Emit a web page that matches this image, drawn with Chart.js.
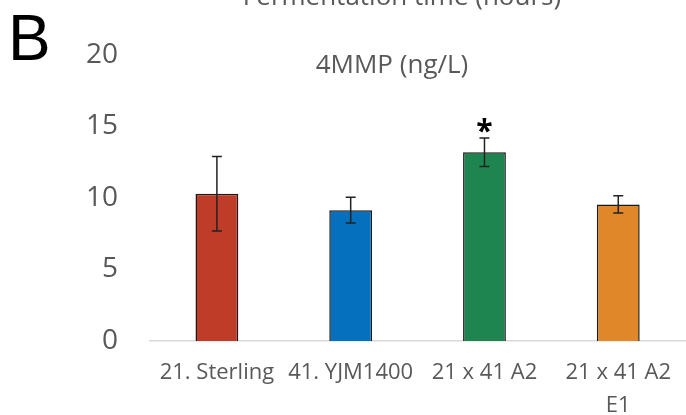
<!DOCTYPE html>
<html>
<head>
<meta charset="utf-8">
<script src="https://cdn.jsdelivr.net/npm/chart.js@4"></script>
<style>
  html, body { margin: 0; padding: 0; background: #fff; }
  #wrap { width: 686px; height: 415px; position: relative; }
</style>
</head>
<body>
<div id="wrap"><canvas id="barChart"></canvas></div>
<script>
var strains = ["21. Sterling", "41. YJM1400", "21 x 41 A2", ["21 x 41 A2", "E1"]];
var mmp = [10.3, 9.15, 13.2, 9.55];
var mmpErr = [2.6, 0.9, 1.0, 0.6];
var significant = [false, false, true, false];
var yTicks = [0, 5, 10, 15, 20];

var colors = ["#BE3C28", "#0570BE", "#1E8550", "#E0872A"];

// error bars, asterisk and the extra texts of the panel
var extras = {
  id: "extras",
  afterDatasetsDraw: function (chart) {
    var c = chart.ctx;
    var x = chart.scales.x, y = chart.scales.y;
    c.save();
    c.strokeStyle = "#222";
    c.lineWidth = 1.5;
    mmp.forEach(function (v, i) {
      var px = x.getPixelForValue(i);
      var top = y.getPixelForValue(v + mmpErr[i]);
      var bot = y.getPixelForValue(v - mmpErr[i]);
      c.beginPath();
      c.moveTo(px, top); c.lineTo(px, bot);
      c.moveTo(px - 5, top); c.lineTo(px + 5, top);
      c.moveTo(px - 5, bot); c.lineTo(px + 5, bot);
      c.stroke();
      if (significant[i]) {
        c.fillStyle = "#000";
        c.font = "bold 30px 'Open Sans'";
        c.textAlign = "center";
        c.textBaseline = "alphabetic";
        c.fillText("*", px, top + 3);
      }
    });

    c.fillStyle = "#595959";
    c.font = "26px 'Open Sans'";
    c.textAlign = "center";
    c.textBaseline = "alphabetic";
    c.fillText("4MMP (ng/L)", 392, 73);
    c.fillText("Fermentation time (hours)", 402, 5);

    c.fillStyle = "#000";
    c.font = "64px 'Liberation Sans'";
    c.textAlign = "left";
    c.fillText("B", 8, 60);
    c.restore();
  }
};

new Chart(document.getElementById("barChart"), {
  type: "bar",
  data: {
    labels: strains,
    datasets: [{
      label: "4MMP (ng/L)",
      data: mmp,
      backgroundColor: colors,
      borderColor: "#1a1a1a",
      borderWidth: 1.5,
      categoryPercentage: 1,
      barPercentage: 0.32
    }]
  },
  options: {
    responsive: true,
    maintainAspectRatio: false,
    animation: false,
    layout: { padding: { top: 55, left: 0, right: 0, bottom: 0 } },
    plugins: {
      legend: { display: false },
      tooltip: { enabled: false }
    },
    scales: {
      x: {
        grid: { display: false, drawTicks: false },
        border: { display: true, color: "#d9d9d9", width: 1.5 },
        ticks: {
          color: "#595959",
          font: { family: "'Open Sans'", size: 22, lineHeight: 1.5 },
          padding: 15,
          maxRotation: 0,
          autoSkip: false
        },
        afterFit: function (s) { s.height = 74; }
      },
      y: {
        min: 0,
        max: 20,
        grid: { display: false, drawTicks: false },
        border: { display: false },
        afterBuildTicks: function (s) {
          s.ticks = yTicks.map(function (v) { return { value: v }; });
        },
        ticks: {
          color: "#595959",
          font: { family: "'Open Sans'", size: 28 },
          padding: 32
        },
        afterFit: function (s) { s.width = 150; }
      }
    }
  },
  plugins: [extras]
});
</script>
</body>
</html>
